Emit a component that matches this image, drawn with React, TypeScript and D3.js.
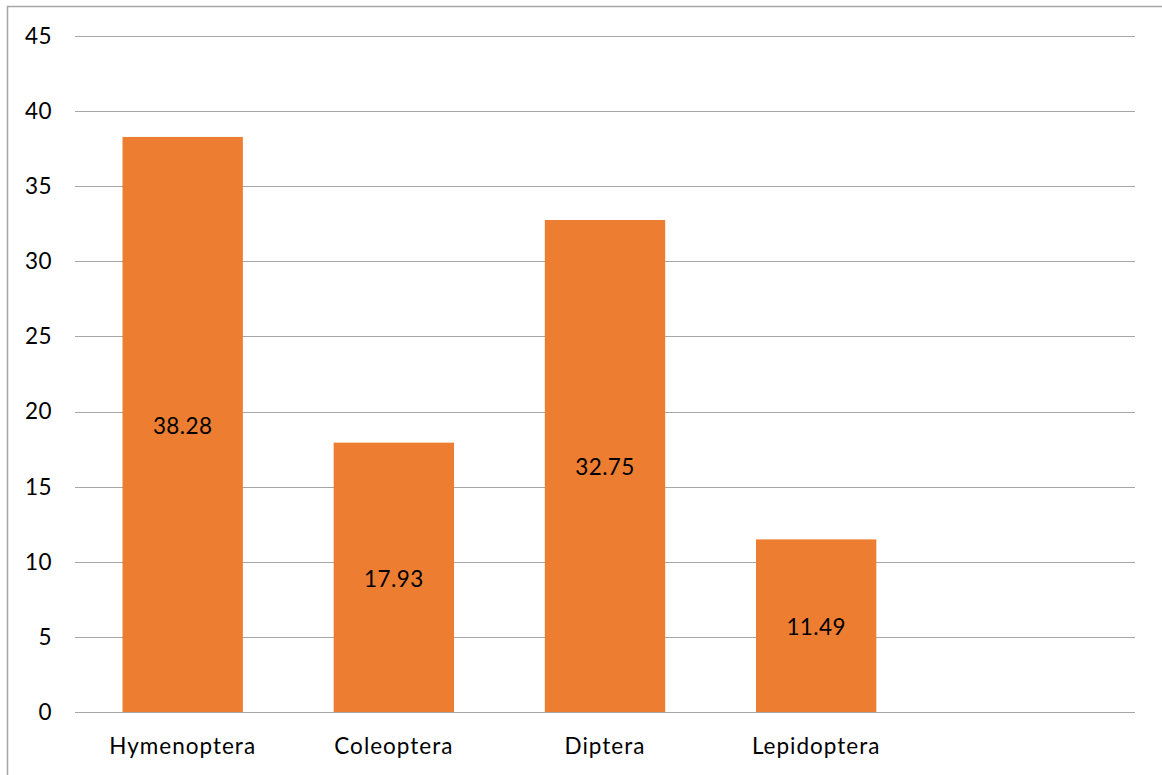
import React, { useEffect, useRef } from 'react';
import * as d3 from 'd3';

const categories = ['Hymenoptera', 'Coleoptera', 'Diptera', 'Lepidoptera', ''];
const values = [38.28, 17.93, 32.75, 11.49, null];
const yTicks = [0, 5, 10, 15, 20, 25, 30, 35, 40, 45];

const W = 1162;
const H = 775;
const font = 'Lato, "Open Sans", sans-serif';

const App = () => {
	const ref = useRef<SVGSVGElement>(null);

	useEffect(() => {
		const svg = d3.select(ref.current);
		svg.selectAll('*').remove();

		const margin = { top: 36, right: 27, bottom: 63, left: 75 };

		const x = d3.scaleBand().domain(categories.map((c, i) => String(i)))
			.range([margin.left, W - margin.right]).paddingInner(0.43).paddingOuter(0.225);
		const y = d3.scaleLinear().domain([0, 45]).range([H - margin.bottom, margin.top]);

		const txt = (sel: any) => sel
			.style('font-family', font).style('font-size', '22.5px')
			.style('letter-spacing', '0.4px').attr('fill', '#000');

		// outer frame (right/bottom edges fall outside the picture)
		svg.append('rect')
			.attr('x', 7.5).attr('y', 6.5)
			.attr('width', W + 10).attr('height', H + 10)
			.attr('fill', 'none').attr('stroke', '#a6a6a6').attr('stroke-width', 1.5);

		svg.append('g').selectAll('line').data(yTicks).join('line')
			.attr('x1', margin.left).attr('x2', W - margin.right)
			.attr('y1', d => Math.round(y(d)) + 0.5).attr('y2', d => Math.round(y(d)) + 0.5)
			.attr('stroke', '#a6a6a6').attr('stroke-width', 1.2);

		svg.append('g').selectAll('text').data(yTicks).join('text')
			.attr('x', 52).attr('y', d => y(d))
			.attr('dy', '0.35em')
			.attr('text-anchor', 'end')
			.call(txt)
			.text(d => d);

		const data = categories.map((c, i) => ({ key: String(i), name: c, value: values[i] }));
		const withVal = data.filter(d => d.value !== null);

		svg.append('g').selectAll('rect').data(withVal).join('rect')
			.attr('x', d => x(d.key)!)
			.attr('width', x.bandwidth())
			.attr('y', d => y(d.value as number))
			.attr('height', d => y(0) - y(d.value as number))
			.attr('fill', '#ed7d31');

		svg.append('g').selectAll('text').data(withVal).join('text')
			.attr('x', d => x(d.key)! + x.bandwidth() / 2)
			.attr('y', d => (y(d.value as number) + y(0)) / 2 + 1.5)
			.attr('dy', '0.35em')
			.attr('text-anchor', 'middle')
			.call(txt)
			.text(d => (d.value as number).toFixed(2));

		svg.append('g').selectAll('text').data(data.filter(d => d.name)).join('text')
			.attr('x', d => x(d.key)! + x.bandwidth() / 2)
			.attr('y', 746)
			.attr('dy', '0.35em')
			.attr('text-anchor', 'middle')
			.call(txt)
			.style('letter-spacing', '1px')
			.text(d => d.name);
	}, []);

	return (
		<svg ref={ref} width={W} height={H}
			style={{ position: 'absolute', left: 0, top: 0, background: '#fff', display: 'block' }} />
	);
};

export default App;
